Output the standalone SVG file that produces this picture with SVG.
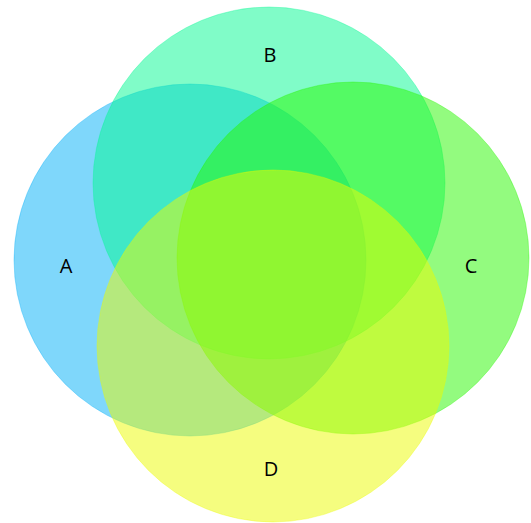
<svg xmlns="http://www.w3.org/2000/svg" width="531" height="523" viewBox="0 0 531 523">
<style>
.c{fill-opacity:0.5;stroke-opacity:0.35;stroke-width:1}
.l{font-family:"Open Sans","Noto Sans",sans-serif;font-size:20px;fill:#000;text-anchor:middle;dominant-baseline:central}
</style>
<rect width="531" height="523" fill="#fff"/>
<g id="A"><circle class="c" cx="190" cy="260" r="176" fill="rgb(0,176,248)" stroke="rgb(0,176,248)"/></g>
<g id="B"><circle class="c" cx="269" cy="183" r="176" fill="rgb(1,249,145)" stroke="rgb(1,249,145)"/></g>
<g id="C"><circle class="c" cx="353" cy="258" r="176" fill="rgb(39,247,0)" stroke="rgb(39,247,0)"/></g>
<g id="D"><circle class="c" cx="273" cy="346" r="176" fill="rgb(235,251,0)" stroke="rgb(235,251,0)"/></g>
<g id="labels">
<text class="l" x="66" y="265">A</text>
<text class="l" x="270" y="54">B</text>
<text class="l" x="471" y="265">C</text>
<text class="l" x="271" y="468">D</text>
</g>
<g id="connectors"/>
</svg>
